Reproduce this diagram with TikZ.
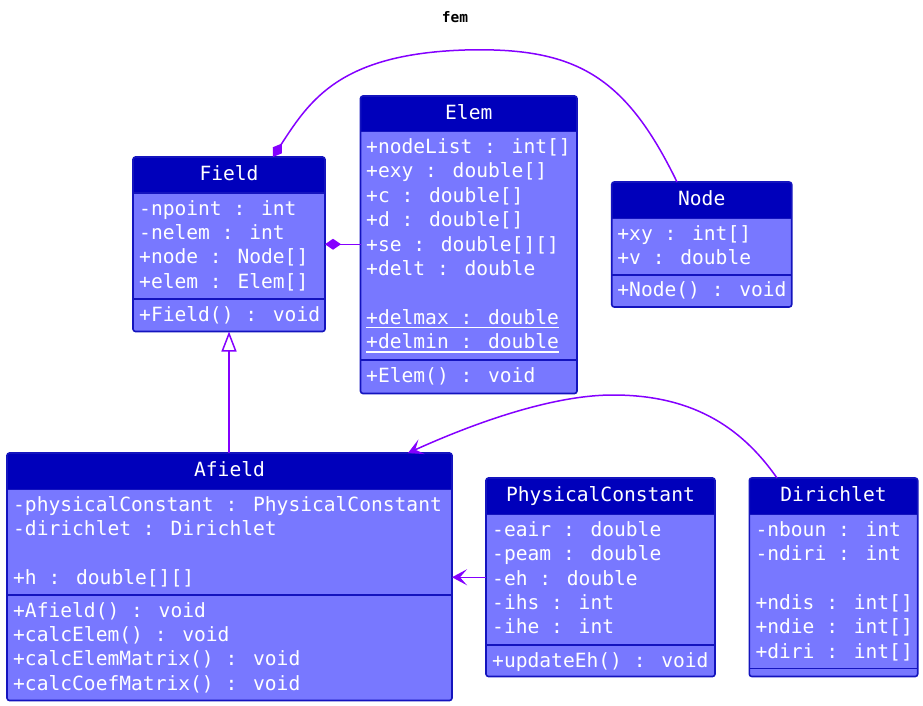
\documentclass[tikz,border=0pt]{standalone}
\usepackage{fontspec}
\usetikzlibrary{arrows.meta,fit}
\newfontfamily\umlmono{DejaVu Sans Mono}
\definecolor{headfill}{RGB}{0,0,187}
\definecolor{bodyfill}{RGB}{120,120,255}
\definecolor{edgeblue}{RGB}{20,20,190}
\definecolor{linkviolet}{RGB}{132,0,255}

\tikzset{
  classbody/.style={fill=bodyfill, rounded corners=2.5pt, inner sep=0pt, outer sep=0pt},
  border/.style={draw=edgeblue, line width=1.6pt},
  sepline/.style={draw=edgeblue, line width=1.4pt},
  membertext/.style={anchor=base west, inner sep=0pt, text=white,
    font=\umlmono\fontsize{19.6pt}{24pt}\selectfont},
  titletext/.style={anchor=base, inner sep=0pt, text=white,
    font=\umlmono\fontsize{19.6pt}{24pt}\selectfont},
  link/.style={draw=linkviolet, line width=1.5pt},
  compose/.style={link, {Diamond[length=16pt,width=11pt]}-},
  extends/.style={link, -{Triangle[open, length=20pt, width=15pt, fill=white]}},
  uses/.style={link, -{Stealth[length=15pt,width=16pt,inset=7pt]}},
}

% class frame: name, x1, y1, x2, y2, header bottom, title
\newcommand\umlclass[7]{%
  \node[classbody, fit={(#2,#3) (#4,#5)}] (#1) {};
  \begin{scope}
    \clip[rounded corners=2.5pt] (#2,#3) rectangle (#4,#5);
    \fill[headfill] (#2,#3) rectangle (#4,#6);
  \end{scope}
  \draw[sepline] (#2,#6) -- (#4,#6);
  \draw[border, rounded corners=2.5pt] (#1.north west) rectangle (#1.south east);
  \node[titletext] (#1-title) at ({(#2+#4)/2},{#3+23.7}) {#7};
}
% member lines: name prefix, x, first baseline, first index, list
\newcommand\members[5]{%
  \foreach \t [count=\i from #4] in {#5} {
    \node[membertext] (#1-\i) at (#2,{#3+24.4*(\i-#4)}) {\t};
  }
}

\begin{document}
\begin{tikzpicture}[x=1pt,y=-1pt]
\fill[white] (0,0) rectangle (923,706);
\useasboundingbox (0,0) rectangle (923,706);

\node[anchor=base, inner sep=0pt,
  font=\umlmono\bfseries\fontsize{14.5pt}{16pt}\selectfont] (diagramtitle) at (455,23) {fem};

% Field
\umlclass{field}{133}{157}{325}{331.5}{193}{Field}
\members{field}{139}{215}{1}{-npoint : int, -nelem : int, +node : Node[], +elem : Elem[]}
\draw[sepline] (133,299) -- (325,299);
\members{field}{139}{321}{5}{+Field() : void}

% Elem
\umlclass{elem}{360.5}{96}{577}{393.5}{131.7}{Elem}
\members{elem}{366}{153.5}{1}{+nodeList : int[], +exy : double[], +c : double[], +d : double[], +se : double[][], +delt : double}
\members{elem}{366}{324.3}{8}{+delmax : double, +delmin : double}
\foreach \k in {8,9}
  \draw[white, line width=1.3pt] ([yshift=-3.2pt]elem-\k.base west) -- ([yshift=-3.2pt]elem-\k.base east);
\draw[sepline] (360.5,360) -- (577,360);
\members{elem}{366}{382.3}{10}{+Elem() : void}

% Node
\umlclass{node}{611.7}{182}{791.7}{307}{218.3}{Node}
\members{node}{617.2}{240.3}{1}{+xy : int[], +v : double}
\draw[sepline] (611.7,274.8) -- (791.7,274.8);
\members{node}{617.2}{296.8}{3}{+Node() : void}

% Afield
\umlclass{afield}{7}{453}{452}{700.5}{489.3}{Afield}
\members{afield}{13}{511.3}{1}{-physicalConstant : PhysicalConstant, -dirichlet : Dirichlet}
\members{afield}{13}{584.5}{4}{+h : double[][]}
\draw[sepline] (7,594.8) -- (452,594.8);
\members{afield}{13}{617}{5}{+Afield() : void, +calcElem() : void, +calcElemMatrix() : void, +calcCoefMatrix() : void}

% PhysicalConstant
\umlclass{phys}{486}{478}{715}{676.5}{514.3}{PhysicalConstant}
\members{phys}{492}{536.3}{1}{-eair : double, -peam : double, -eh : double, -ihs : int, -ihe : int}
\draw[sepline] (486,644.8) -- (715,644.8);
\members{phys}{492}{667}{6}{+updateEh() : void}

% Dirichlet
\umlclass{dir}{749.3}{478}{917.7}{676.5}{514.3}{Dirichlet}
\members{dir}{755.3}{536.3}{1}{-nboun : int, -ndiri : int}
\members{dir}{755.3}{609.5}{4}{+ndis : int[], +ndie : int[], +diri : int[]}
\draw[sepline] (749.3,668.5) -- (917.7,668.5);

% relations
\draw[compose] ([xshift=44pt]field.north) .. controls (310,100) and (340,54) .. (465,50)
  .. controls (575,47) and (625,75) .. ([xshift=-24.7pt]node.north);
\draw[compose] (field.east) -- (field.east -| elem.west);
\draw[extends] (field.south |- afield.north) -- (field.south);
\draw[uses] ([xshift=-56.5pt]dir.north) .. controls (740,425) and (690,395) .. (613,395)
  .. controls (550,395) and (470,425) .. ([xshift=178.5pt]afield.north);
\draw[uses] (phys.west) -- (phys.west -| afield.east);
\end{tikzpicture}
\end{document}
